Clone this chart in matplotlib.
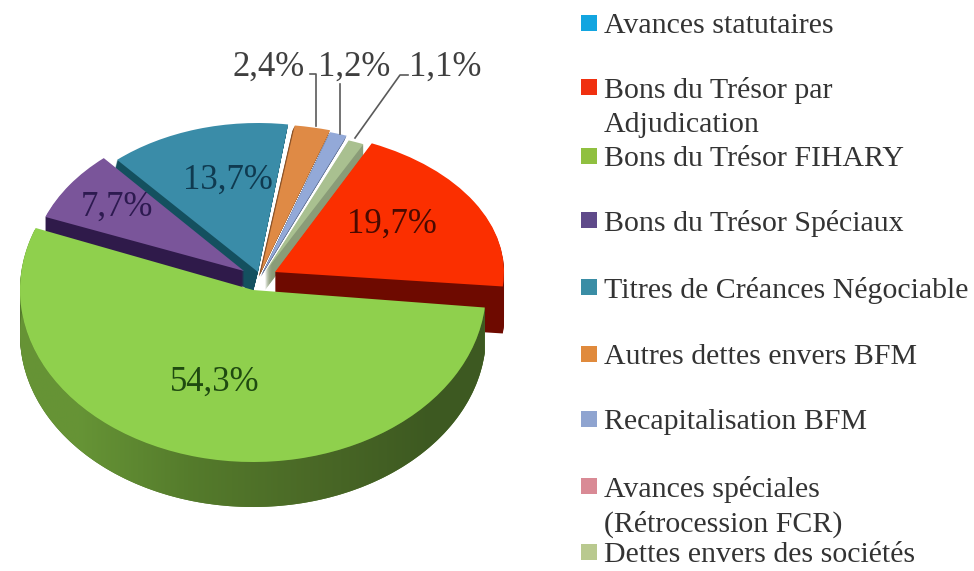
import numpy as np
import matplotlib
matplotlib.use("Agg")
import matplotlib.pyplot as plt
from matplotlib.patches import Polygon
from matplotlib.transforms import Affine2D

plt.rcParams["font.family"] = ["Liberation Serif", "DejaVu Serif"]

# --- Data ---
categories = ["Avances statutaires", "Bons du Trésor par\nAdjudication", "Bons du Trésor FIHARY",
              "Bons du Trésor Spéciaux", "Titres de Créances Négociable", "Autres dettes envers BFM",
              "Recapitalisation BFM", "Avances spéciales\n(Rétrocession FCR)", "Dettes envers des sociétés"]
values = [0.0, 19.7, 54.3, 7.7, 13.7, 2.4, 1.2, 0.0, 1.1]
pct_labels = ["", "19,7%", "54,3%", "7,7%", "13,7%", "2,4%", "1,2%", "", "1,1%"]

# --- Style ---
top_colors = ["#12a5e0", "#fb2f00", "#8fd04d", "#7a559a", "#3a8ca8", "#df8a45", "#93a9d8", "#d98a95", "#a9c090"]
side_colors = ["#0b6a90", "#6e0a00", "#547a2c", "#2f1a4a", "#14505f", "#8a5228", "#5d6d90", "#8a5058", "#8a9c78"]
legend_colors = ["#12a5e0", "#f03010", "#90c040", "#5f4a8a", "#3a8da5", "#e08a3c", "#8fa4d0", "#d98a95", "#b9c98f"]
START = 65

# per slice: apex x, apex y, radius x, radius y, depth, wall shear (image pixels)
geometry = [(275, 272, 230, 140, 45, 0), (275, 272, 229, 142, 47, 0), (253, 290, 233, 172, 45, 0),
            (244, 271, 213, 150, 22, 0), (258, 272, 214, 149, 22, -0.25), (261, 272, 240, 148, 5, -0.47),
            (263, 272, 233, 146, 5, -0.47), (265, 272, 233, 146, 5, -0.47), (265, 272, 233, 141, 18, 0)]
draw_order = [0, 7, 8, 6, 5, 4, 3, 1, 2]

pct_pos = [None, (392, 224), (215, 382), (117, 207), (228, 180), (269, 67), (354, 67), None, (445, 67)]
legend_y = [24, 88, 157, 221, 288, 355, 420, 487, 553]

fig = plt.figure(figsize=(9.74, 5.71), dpi=100)
ax = fig.add_axes([0, 0, 1, 1])


def place(wedge, i, d=0.0):
    x, y, a, b, _, sx = geometry[i]
    wedge.set_transform(Affine2D().scale(a, -b).translate(x + sx * d, y + d) + ax.transData)
    wedge.set_zorder(draw_order.index(i) * 10 + (5 if d == 0 else 1))


# side walls: the same pie stacked downwards
for d in range(1, 48):
    wedges, _ = ax.pie(values, colors=side_colors, startangle=START, counterclock=False,
                       wedgeprops=dict(linewidth=0))
    for i, w in enumerate(wedges):
        if d > geometry[i][4]:
            w.set_visible(False)
        else:
            place(w, i, d)

# top faces
wedges, _ = ax.pie(values, colors=top_colors, startangle=START, counterclock=False,
                   wedgeprops=dict(linewidth=0))
for i, w in enumerate(wedges):
    place(w, i)

# shaded outer wall of the big slice
g = wedges[2]
x0, y0, a, b, depth, _ = geometry[2]
t = np.radians(90 - np.array([g.theta2, g.theta1]))
arc = np.linspace(t.min(), t.max(), 200)
px = x0 + a * np.sin(arc)
py = y0 - b * np.cos(arc)
wall = Polygon(np.r_[np.c_[px, py], np.c_[px, py + depth][::-1]], closed=True, transform=ax.transData,
               facecolor="none", edgecolor="none")
ax.add_patch(wall)
shade = np.array([[[0.40, 0.58, 0.21], [0.33, 0.48, 0.17], [0.29, 0.41, 0.15], [0.24, 0.35, 0.13]]])
im = ax.imshow(shade, extent=(20, 490, 507, 230), aspect="auto", interpolation="bilinear",
               zorder=draw_order.index(2) * 10 + 2)
im.set_clip_path(wall)

# percent labels
for i, lab in enumerate(pct_labels):
    if lab:
        outside = i >= 5
        ax.text(pct_pos[i][0], pct_pos[i][1], lab, fontsize=25, ha="center", va="center", zorder=200,
                color="#3f3f3f" if outside else {1: "#4a0a00", 2: "#1f4a10", 3: "#2d1a50", 4: "#0f3a50"}[i])

# leader lines
ax.plot([310, 316, 316], [74, 74, 126], color="#5a5a5a", lw=1.2, zorder=150)
ax.plot([340, 340], [84, 134], color="#5a5a5a", lw=1.2, zorder=150)
ax.plot([408, 400, 355], [75, 75, 138], color="#5a5a5a", lw=1.2, zorder=150)

# legend
for lab, col, y in zip(categories, legend_colors, legend_y):
    ax.scatter([589], [y - 1], marker="s", s=120, color=col, linewidths=0, zorder=100)
    ax.text(604, y - 11, lab, fontsize=21.5, ha="left", va="top", color="#333333", linespacing=1.38)

ax.set_aspect("auto")
ax.set_xlim(0, 974)
ax.set_ylim(571, 0)
ax.axis("off")

fig.savefig("out.png", dpi=100, facecolor="white")
